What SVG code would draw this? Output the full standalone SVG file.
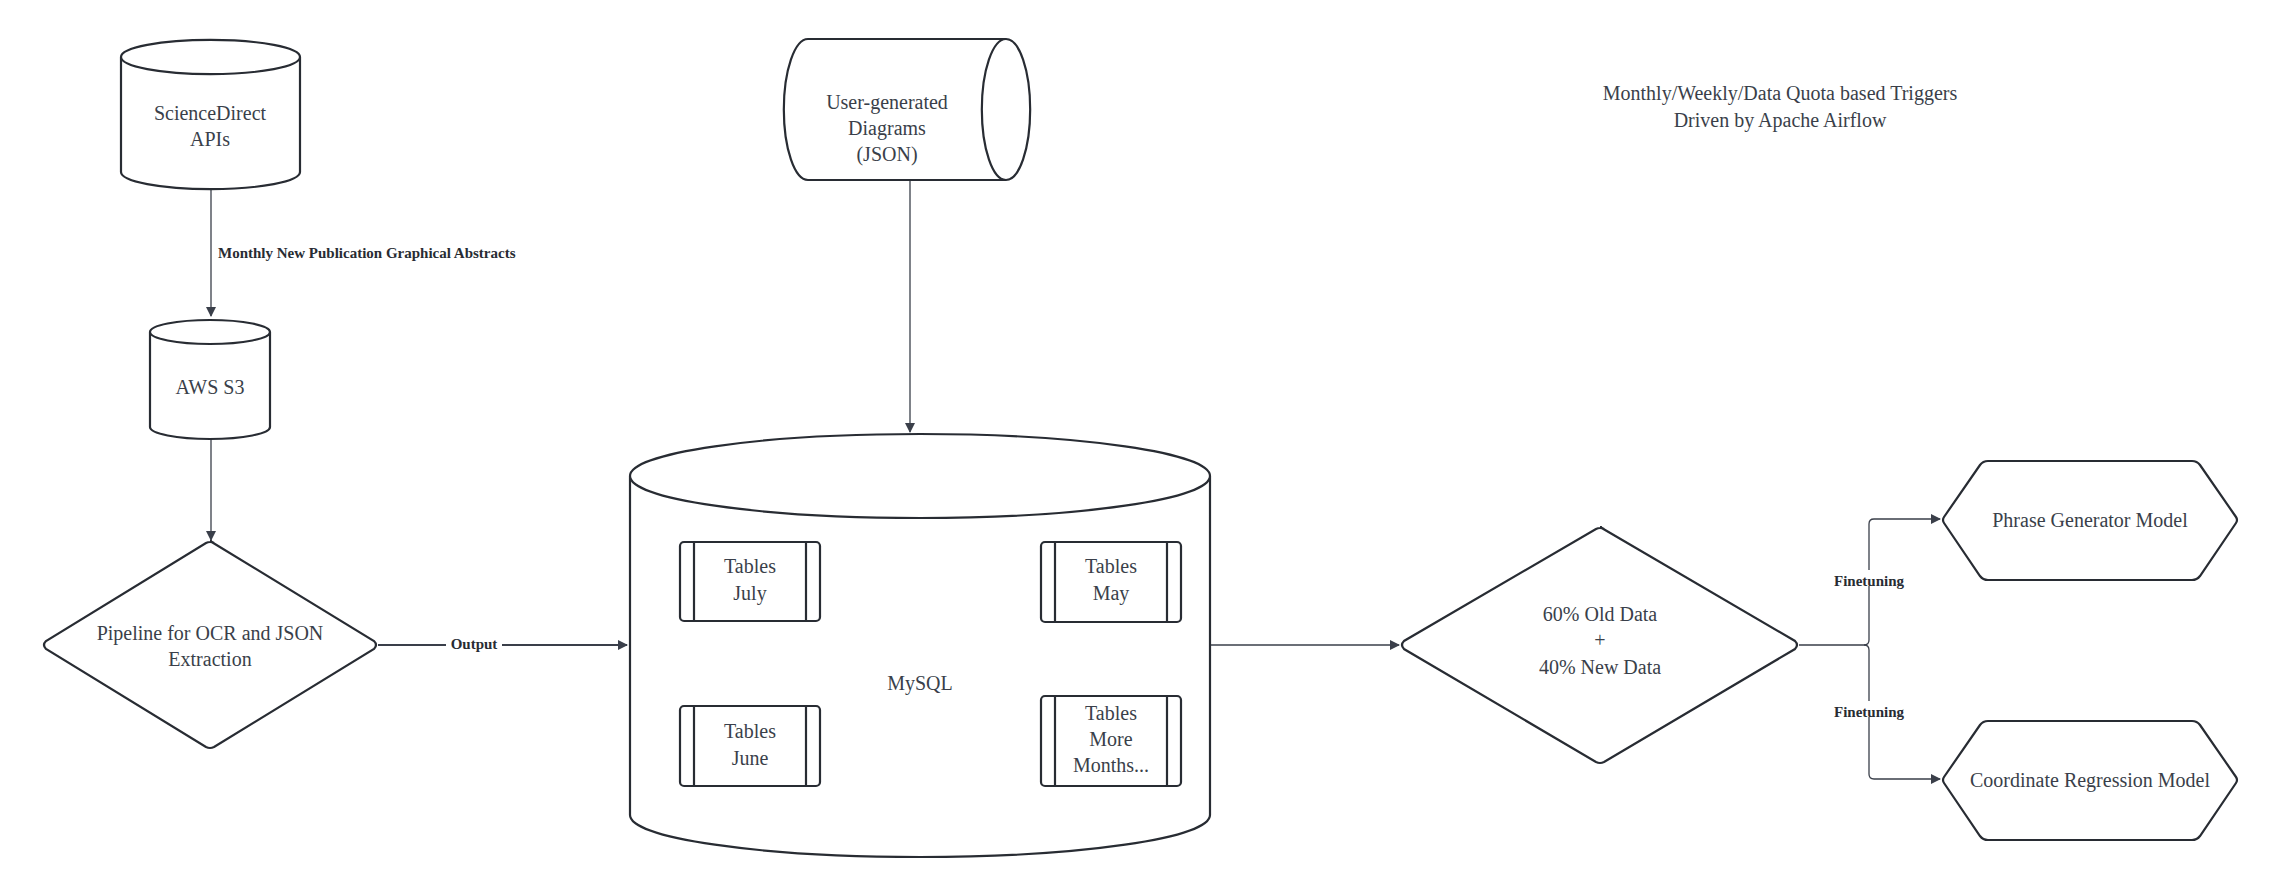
<svg xmlns="http://www.w3.org/2000/svg" width="2280" height="895" viewBox="0 0 2280 895">
<style>
.s{fill:#fff;stroke:#282c33;stroke-width:2.2}
.t{font-family:"Liberation Serif",serif;font-size:20px;fill:#3a3f4a;text-anchor:middle}
.l{font-family:"Liberation Serif",serif;font-size:15px;font-weight:bold;fill:#282c33}
.c{fill:none;stroke:#3a3f4a;stroke-width:1.3}
</style>
<defs><marker id="a" markerWidth="10" markerHeight="10" refX="9" refY="5" orient="auto" markerUnits="userSpaceOnUse"><path d="M0,0 L10,5 L0,10 z" fill="#3a3f4a"/></marker></defs>
<rect width="2280" height="895" fill="#fff"/>
<g id="connectors">
<path class="c" d="M211,189 V316" marker-end="url(#a)"/>
<text class="l" x="218" y="258">Monthly New Publication Graphical Abstracts</text>
<path class="c" d="M211,439 V540" marker-end="url(#a)"/>
<path class="c" d="M378,645 H627" marker-end="url(#a)" style="stroke-width:2"/>
<rect x="446" y="636" width="56" height="16" fill="#fff"/>
<text class="l" x="474" y="649" text-anchor="middle">Output</text>
<path class="c" d="M910,180 V432" marker-end="url(#a)"/>
<path class="c" d="M1210,645 H1399" marker-end="url(#a)"/>
<path class="c" d="M1799,645 H1864 Q1869,645 1869,640 V524 Q1869,519 1874,519 H1940" marker-end="url(#a)"/>
<path class="c" d="M1864,645 Q1869,645 1869,650 V774 Q1869,779 1874,779 H1940" marker-end="url(#a)"/>
<rect x="1828" y="570" width="82" height="16" fill="#fff"/>
<text class="l" x="1869" y="586" text-anchor="middle">Finetuning</text>
<rect x="1828" y="701" width="82" height="16" fill="#fff"/>
<text class="l" x="1869" y="717" text-anchor="middle">Finetuning</text>
</g>
<g id="sciencedirect">
<path class="s" d="M121,57 V172 A89,17 0 0 0 300,172 V57 A89,17 0 0 0 121,57 A89,17 0 0 0 300,57"/>
<text class="t" x="210" y="120">ScienceDirect</text><text class="t" x="210" y="146">APIs</text>
</g>
<g id="s3">
<path class="s" d="M150,332 V427 A60,12 0 0 0 270,427 V332 A60,12 0 0 0 150,332 A60,12 0 0 0 270,332"/>
<text class="t" x="210" y="394">AWS S3</text>
</g>
<g id="pipeline">
<path class="s" d="M210,541 L374,641 Q378,645 374,649 L214,747 Q210,749 206,747 L46,649 Q42,645 46,641 L206,543 Q210,541 214,543 Z"/>
<text class="t" x="210" y="640">Pipeline for OCR and JSON</text><text class="t" x="210" y="666">Extraction</text>
</g>
<g id="userdiagrams">
<path class="s" d="M808,39 H1006 A24,70 0 0 1 1006,180 H808 A24,70 0 0 1 808,39 Z"/>
<path class="s" d="M1006,39 A24,70 0 0 0 1006,180" fill="none"/>
<text class="t" x="887" y="109">User-generated</text><text class="t" x="887" y="135">Diagrams</text><text class="t" x="887" y="161">(JSON)</text>
</g>
<g id="mysql">
<path class="s" d="M630,476 V815 A290,42 0 0 0 1210,815 V476 A290,42 0 0 0 630,476 A290,42 0 0 0 1210,476"/>
<text class="t" x="920" y="690">MySQL</text>
</g>
<g id="july"><rect class="s" x="680" y="542" width="140" height="79" rx="4"/><path class="s" d="M694,542 V621 M806,542 V621"/><text class="t" x="750" y="573">Tables</text><text class="t" x="750" y="600">July</text></g>
<g id="may"><rect class="s" x="1041" y="542" width="140" height="80" rx="4"/><path class="s" d="M1055,542 V622 M1167,542 V622"/><text class="t" x="1111" y="573">Tables</text><text class="t" x="1111" y="600">May</text></g>
<g id="june"><rect class="s" x="680" y="706" width="140" height="80" rx="4"/><path class="s" d="M694,706 V786 M806,706 V786"/><text class="t" x="750" y="738">Tables</text><text class="t" x="750" y="765">June</text></g>
<g id="more"><rect class="s" x="1041" y="696" width="140" height="90" rx="4"/><path class="s" d="M1055,696 V786 M1167,696 V786"/><text class="t" x="1111" y="720">Tables</text><text class="t" x="1111" y="746">More</text><text class="t" x="1111" y="772">Months...</text></g>
<g id="mix">
<path class="s" d="M1600,527 L1795,641 Q1799,645 1795,649 L1604,762 Q1600,764 1596,762 L1404,649 Q1400,645 1404,641 L1596,529 Q1600,527 1604,529 Z"/>
<text class="t" x="1600" y="621">60% Old Data</text><text class="t" x="1600" y="647">+</text><text class="t" x="1600" y="674">40% New Data</text>
</g>
<g id="phrase">
<path class="s" d="M1988,461 H2192 Q2197,461 2200,465 L2236,517 Q2238,520 2236,523 L2200,576 Q2197,580 2192,580 H1988 Q1983,580 1980,576 L1944,523 Q1942,520 1944,517 L1980,465 Q1983,461 1988,461 Z"/>
<text class="t" x="2090" y="527">Phrase Generator Model</text>
</g>
<g id="coord">
<path class="s" d="M1988,721 H2192 Q2197,721 2200,725 L2236,777 Q2238,780 2236,783 L2200,836 Q2197,840 2192,840 H1988 Q1983,840 1980,836 L1944,783 Q1942,780 1944,777 L1980,725 Q1983,721 1988,721 Z"/>
<text class="t" x="2090" y="787">Coordinate Regression Model</text>
</g>
<g id="title">
<text class="t" x="1780" y="100">Monthly/Weekly/Data Quota based Triggers</text>
<text class="t" x="1780" y="127">Driven by Apache Airflow</text>
</g>
</svg>
